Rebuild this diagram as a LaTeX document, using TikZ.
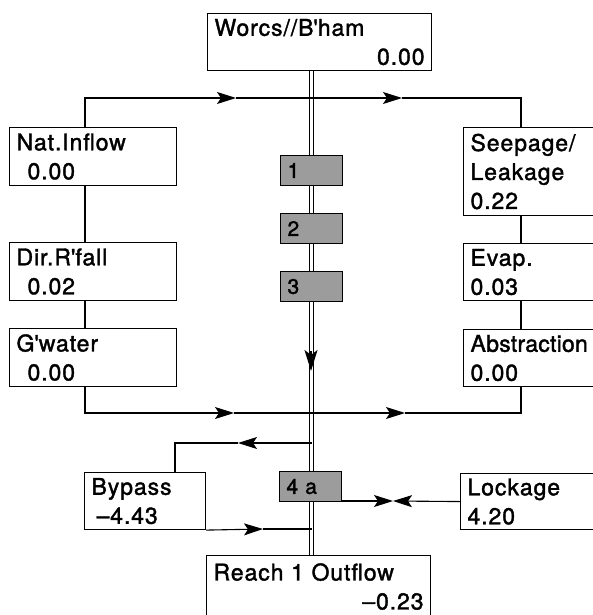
\documentclass[tikz,border=0pt]{standalone}
\usepackage{fontspec}
\setmainfont{TeX Gyre Heros}[LetterSpace=4,Ligatures=TeXOff,FakeBold=1.6]
\usepackage{tikz}
\usetikzlibrary{arrows.meta,positioning,calc,backgrounds}
\definecolor{shade}{HTML}{9C9C9C}
\newcommand{\flowbox}[4]{
  \node[#3] (#1) at #2 {#4};
}

\begin{document}
\begin{tikzpicture}[x=1pt,y=-1pt,line width=1.1pt,
  box/.style={draw,rectangle,anchor=north west,inner xsep=7pt,inner ysep=0pt,
    align=left,font=\fontsize{23}{29}\selectfont},
  leftbox/.style={box,minimum width=167pt,minimum height=58pt,text width=153pt},
  rightbox/.style={box,minimum width=150pt,minimum height=57pt,text width=136pt},
  widebox/.style={box,minimum width=224pt,minimum height=57pt,text width=210pt},
  sidebox/.style={box,minimum width=121pt,minimum height=57pt,text width=107pt},
  stagebox/.style={draw,fill=shade,rectangle,anchor=north west,minimum width=62pt,
    minimum height=30pt,inner xsep=7pt,inner ysep=0pt,text width=48pt,align=left,
    font=\fontsize{21}{24}\selectfont},
  flow/.style={-{Stealth[length=19pt,width=12pt,inset=4pt]}},
  downflow/.style={-{Stealth[length=21pt,width=13pt,inset=5pt]}},
  river/.style={double,double distance=3.4pt,line width=0.9pt}]
  \useasboundingbox (0,0) rectangle (593,615);
  % boxes
  \flowbox{worcs}{(207,13)}{widebox}{Worcs//B\textquotesingle ham\\\mbox{}\hfill 0.00}
  \flowbox{nat}{(9,127)}{leftbox}{Nat.Inflow\\\hspace*{11pt}0.00}
  \flowbox{dir}{(9,242)}{leftbox}{Dir.R\textquotesingle fall\\\hspace*{11pt}0.02}
  \flowbox{gw}{(9,328)}{leftbox}{G\textquotesingle water\\\hspace*{11pt}0.00}
  \flowbox{seep}{(463,127)}{rightbox,minimum height=88pt}{Seepage/\\Leakage\\0.22}
  \flowbox{evap}{(463,243)}{rightbox}{Evap.\\0.03}
  \flowbox{abst}{(463,329)}{rightbox}{{\addfontfeatures{LetterSpace=1}Abstraction}\\0.00}
  \flowbox{bypass}{(84,472)}{sidebox}{Bypass\\\hspace*{5pt}–4.43}
  \flowbox{lock}{(460,473)}{rightbox,minimum height=56pt}{Lockage\\4.20}
  \flowbox{reach}{(206,555)}{widebox,minimum height=62pt}{Reach 1 Outflow\\\mbox{}\hfill –0.23}
  % river stages
  \flowbox{s1}{(280,155)}{stagebox}{1}
  \flowbox{s2}{(280,213)}{stagebox}{2}
  \flowbox{s3}{(280,271)}{stagebox}{3}
  \flowbox{s4}{(279,471)}{stagebox}{4 a}
  \begin{scope}[on background layer]
    \draw[river] (s1 |- worcs.south) -- (s1 |- reach.north);
  \end{scope}
  \coordinate (lcol) at (85,98);
  \coordinate (rcol) at (521,98);
  \coordinate (ta1) at (236,98);
  \coordinate (ta2) at (402,98);
  \coordinate (ba1) at (234,413);
  \coordinate (ba2) at (405,413);
  \coordinate (bpx) at (175,443);
  \coordinate (bpa) at (238,443);
  \coordinate (bla) at (263,529);
  \coordinate (lm) at (393,501);
  \coordinate (dn0) at (311,351);
  \coordinate (dn) at (311,371);
  % inflows and losses
  \draw[flow] (lcol |- nat.north) -- (lcol) -- (ta1);
  \draw (ta1) -- (ta1 -| s1);
  \draw[flow] (ta1 -| s1) -- (ta2);
  \draw (ta2) -- (rcol) -- (rcol |- seep.north);
  \draw (lcol |- nat.south) -- (lcol |- dir.north);
  \draw (lcol |- dir.south) -- (lcol |- gw.north);
  \draw (rcol |- seep.south) -- (rcol |- evap.north);
  \draw (rcol |- evap.south) -- (rcol |- abst.north);
  \draw[flow] (lcol |- gw.south) |- (ba1);
  \draw (ba1) -- (ba1 -| s1);
  \draw[flow] (ba1 -| s1) -- (ba2);
  \draw (ba2) -| (rcol |- abst.south);
  \draw[downflow] (dn0) -- (dn);
  % bypass and lockage
  \draw[flow] (bpa -| s1) -- (bpa);
  \draw (bpa) -- (bpx) -- (bpx |- bypass.north);
  \draw[flow] (bypass.south east) -- (bla);
  \draw (bla) -- (bla -| s1);
  \draw[flow] (lock.west) -- (lm);
  \draw[flow] (s4.east |- lm) -- (lm);
\end{tikzpicture}
\end{document}
